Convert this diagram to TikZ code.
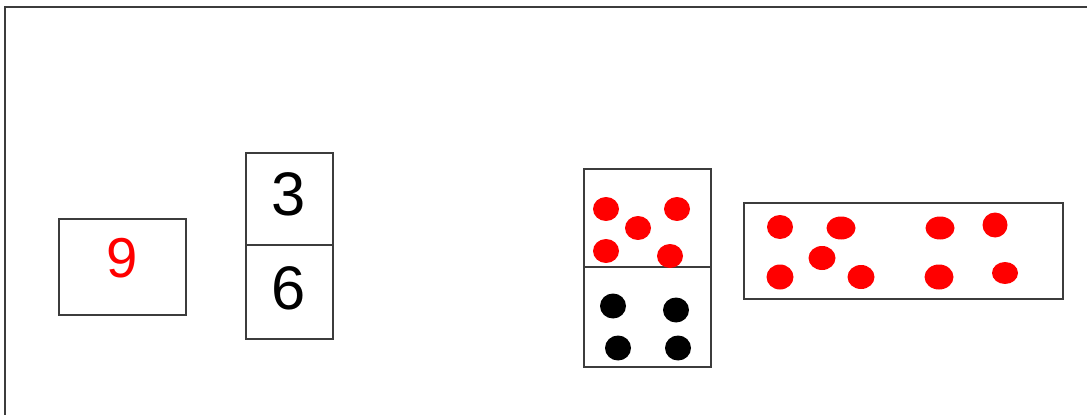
\documentclass[tikz,border=0pt]{standalone}
\usepackage{fontspec}
\setmainfont{Liberation Sans}
\usetikzlibrary{positioning}
\definecolor{framegray}{RGB}{60,60,60}
\definecolor{dotred}{RGB}{255,0,0}

\tikzset{
  card/.style={draw=framegray, line width=1.1pt},
  split/.style={draw=framegray, line width=1.7pt},
  bignum/.style={font=\fontsize{35}{40}\selectfont, inner sep=0pt},
  reddot/.style={fill=dotred},
  blackdot/.style={fill=black}
}

\begin{document}
\begin{tikzpicture}[x=0.02cm, y=-0.02cm]
\useasboundingbox (0,0) rectangle (1087,415);
% frame, only top and left edges show
\draw[card] (1087,7) -- (5,7) -- (5,415);

% the sum card
\draw[card] (59,219) rectangle (186,315);
\node[bignum, text=dotred, font=\fontsize{32}{36}\selectfont] (nine) at (122,258) {9};

% number domino
\draw[card] (246,153) rectangle (333,339);
\draw[split] (246,245) -- (333,245);
\node[bignum] (three) at (289,194) {3};
\node[bignum] (six) at (289,288) {6};

% dot domino
\draw[card] (584,169) rectangle (711,367);
\draw[split] (584,267) -- (711,267);
\foreach \px/\py in {606/209, 638/228, 677/209, 606/251, 670/256}
  \fill[reddot] (\px,\py) ellipse [x radius=0.26cm, y radius=0.24cm];
\foreach \px/\py in {613/306, 676/310, 618/348, 678/348}
  \fill[blackdot] (\px,\py) ellipse [x radius=0.26cm, y radius=0.25cm];

% all nine dots in a row
\draw[card] (744,203) rectangle (1063,299);
\foreach \px/\py/\rx/\ry in {780/227/13/12, 841/228/14.5/11.5, 940/228/14.5/11.5,
    995/225/12.5/12.5, 822/258/13.5/12, 780/277/13.5/12.5, 861/277/13.5/12,
    939/277/14.5/12.5, 1005/273/13/11}
  \fill[reddot] (\px,\py) ellipse [x radius=\rx*0.02cm, y radius=\ry*0.02cm];
\end{tikzpicture}
\end{document}
